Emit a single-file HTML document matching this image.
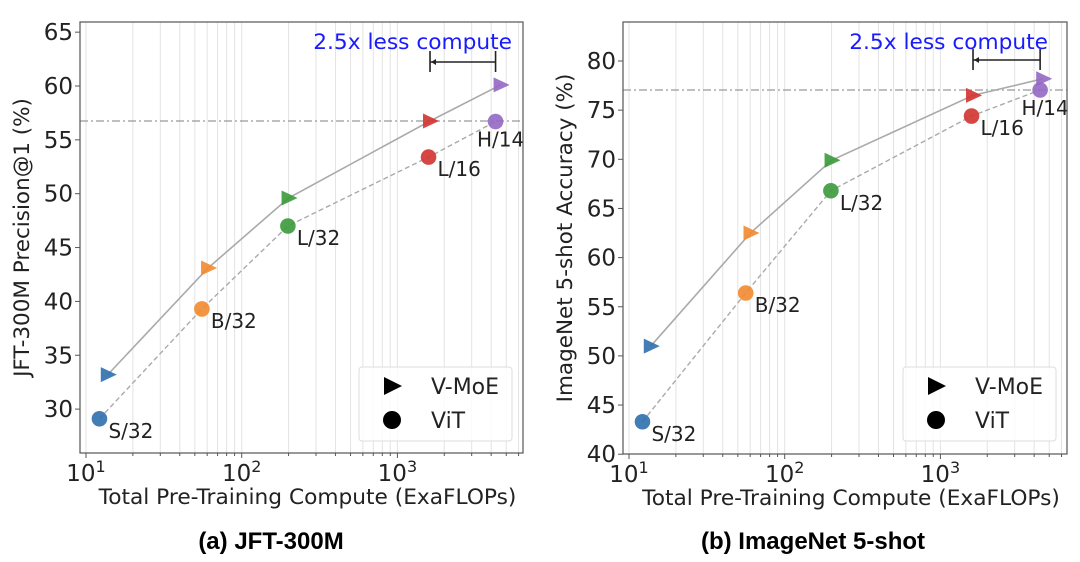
<!DOCTYPE html>
<html><head><meta charset="utf-8">
<style>
html,body{margin:0;padding:0;background:#fff;}
svg{display:block;font-family:"DejaVu Sans","Liberation Sans",sans-serif;}
</style></head>
<body>
<svg id="fig" width="1080" height="562" viewBox="0 0 1080 562" xmlns="http://www.w3.org/2000/svg"></svg>
<script>
// ---- data ----
const models = ["S/32","B/32","L/32","L/16","H/14"];
const colors = ["#2f6fad","#f28a2e","#3b9a3b","#d23330","#9467c4"];
// JFT-300M panel
const jftVitCompute = [12.2, 55.5, 198, 1585, 4270];
const jftVitValue   = [29.1, 39.3, 47.0, 53.4, 56.7];
const jftMoeCompute = [13.8, 60.8, 200, 1620, 4600];
const jftMoeValue   = [33.2, 43.1, 49.6, 56.75, 60.1];
const jftYTicks = [30,35,40,45,50,55,60,65];
const jftRef = 56.75;
const jftBracket = [1620, 4270];
// ImageNet panel
const inVitCompute = [12.2, 56.2, 198, 1585, 4370];
const inVitValue   = [43.3, 56.4, 66.8, 74.4, 77.05];
const inMoeCompute = [13.8, 60.3, 200, 1620, 4570];
const inMoeValue   = [51.0, 62.5, 69.9, 76.5, 78.2];
const inYTicks = [40,45,50,55,60,65,70,75,80];
const inRef = 77.05;
const inBracket = [1620, 4370];
const xTickExps = [1,2,3];

const NS="http://www.w3.org/2000/svg";
const svg=document.getElementById('fig');
function mk(tag,attrs,parent){const e=document.createElementNS(NS,tag);for(const k in attrs)e.setAttribute(k,attrs[k]);(parent||svg).appendChild(e);return e;}

function panel(cfg){
  const g=mk('g',{});
  
  
  const L=cfg.left,R=cfg.right,T=22,B=cfg.bottom;
  const xs=v=>cfg.x10+(Math.log10(v)-1)*155.7;
  const ys=v=>cfg.yAt0+(v-cfg.y0)*(-cfg.ppu);
  for(let e=1;e<=3;e++){for(let m=1;m<=9;m++){const v=m*Math.pow(10,e);const x=xs(v);if(x<=L||x>=R)continue;
    const l=mk('line',{x1:x,x2:x,y1:T,y2:B,stroke:'#e3e3e3','stroke-width':1},g);
    }}
  const rl=mk('line',{x1:L,x2:R,y1:ys(cfg.ref),y2:ys(cfg.ref),stroke:'#999','stroke-width':1.3,'stroke-dasharray':'8 3 2 3'},g);
  
  const moeL=mk('polyline',{points:cfg.moeX.map((c,i)=>xs(c)+','+ys(cfg.moeY[i])).join(' '),fill:'none',stroke:'#aaa','stroke-width':1.6},g);
  
  const vitL=mk('polyline',{points:cfg.vitX.map((c,i)=>xs(c)+','+ys(cfg.vitY[i])).join(' '),fill:'none',stroke:'#aaa','stroke-width':1.4,'stroke-dasharray':'5 3'},g);
  
  cfg.moeX.forEach((c,i)=>{const x=xs(c),y=ys(cfg.moeY[i]);
    const p=mk('polygon',{points:`${x-7},${y-7.5} ${x+9},${y} ${x-7},${y+7.5}`,fill:colors[i],'fill-opacity':0.9},g);
    });
  cfg.vitX.forEach((c,i)=>{const x=xs(c),y=ys(cfg.vitY[i]);
    const p=mk('circle',{cx:x,cy:y,r:7.8,fill:colors[i],'fill-opacity':0.9},g);
    
    const t=mk('text',{x:x+(i==4?5:9),y:y+(i==4?25:19),'font-size':20,fill:'#222','text-anchor':(i==4?'middle':'start')},g);t.textContent=models[i];
    });
  const f=mk('rect',{x:L,y:T,width:R-L,height:B-T,fill:'none',stroke:'#555','stroke-width':1.2},g);
  
  cfg.yTicks.forEach(v=>{const y=ys(v);mk('line',{x1:L-5,x2:L,y1:y,y2:y,stroke:'#555'},g);
    const t=mk('text',{x:L-7,y:y+8,'font-size':23,'text-anchor':'end',fill:'#222'},g);t.textContent=v;
    });
  xTickExps.forEach(e=>{const x=xs(Math.pow(10,e));mk('line',{x1:x,x2:x,y1:B,y2:B+5,stroke:'#555'},g);
    const t=mk('text',{x:x,y:B+28,'font-size':23,'text-anchor':'middle',fill:'#222'},g);
    
    const a=mk('tspan',{},t);a.textContent='10';const s=mk('tspan',{dy:-9,'font-size':16},t);s.textContent=e;});
  for(let e=1;e<=3;e++)for(let m=2;m<=9;m++){const x=xs(m*Math.pow(10,e));if(x<R)mk('line',{x1:x,x2:x,y1:B,y2:B+3,stroke:'#555'},g);}
  const xt=mk('text',{x:(L+R)/2+6,y:B+51,'font-size':21.7,'text-anchor':'middle',fill:'#222'},g);xt.textContent='Total Pre-Training Compute (ExaFLOPs)';
  
  const yt=mk('text',{x:0,y:0,'font-size':21.5,'text-anchor':'middle',fill:'#222',transform:`translate(${cfg.ytx},${(T+B)/2}) rotate(-90)`},g);yt.textContent=cfg.ylabel;
  
  const an=mk('text',{x:cfg.annX,y:49,'font-size':21.7,'text-anchor':'end',fill:'#1a1aff'},g);an.textContent='2.5x less compute';
  
  const bx1=xs(cfg.bracket[0]),bx2=xs(cfg.bracket[1]),by=cfg.by;
  const br=mk('g',{},g);
  mk('line',{x1:bx1,x2:bx2,y1:by,y2:by,stroke:'#222','stroke-width':1.6},br);
  mk('line',{x1:bx1,x2:bx1,y1:by-11,y2:by+10,stroke:'#222','stroke-width':1.6},br);
  mk('line',{x1:bx2,x2:bx2,y1:by-11,y2:by+10,stroke:'#222','stroke-width':1.6},br);
  mk('polygon',{points:`${bx1+1},${by} ${bx1+6},${by-3} ${bx1+6},${by+3}`,fill:'#222'},br);
  const lg=mk('g',{},g);
  const lx=cfg.legX;
  mk('rect',{x:lx,y:367,width:153,height:74,rx:3,fill:'#fff','fill-opacity':0.8,stroke:'#ddd'},lg);
  mk('polygon',{points:`${lx+25},${377} ${lx+43},${386} ${lx+25},${395}`,fill:'#000'},lg);
  mk('circle',{cx:lx+33,cy:420,r:9,fill:'#000'},lg);
  const l1=mk('text',{x:lx+72,y:394,'font-size':22,fill:'#222'},lg);l1.textContent='V-MoE';
  
  const l2=mk('text',{x:lx+72,y:428,'font-size':22,fill:'#222'},lg);l2.textContent='ViT';
  
  const cp=mk('text',{x:cfg.capX,y:549,'font-size':24,'font-weight':'bold','text-anchor':'middle',fill:'#000','font-family':'Liberation Sans, sans-serif'},g);cp.textContent=cfg.caption;
  
}

panel({name:'jft-panel',left:80,right:523,bottom:453,x10:86,y0:60,yAt0:86,ppu:10.77,
  vitX:jftVitCompute,vitY:jftVitValue,moeX:jftMoeCompute,moeY:jftMoeValue,yTicks:jftYTicks,ref:jftRef,
  bracket:jftBracket,by:62,annX:512,legX:359,ytx:29,ylabel:'JFT-300M Precision@1 (%)',capX:271,caption:'(a) JFT-300M'});
panel({name:'imagenet-panel',left:623,right:1067,bottom:454,x10:629,y0:80,yAt0:61,ppu:9.83,
  vitX:inVitCompute,vitY:inVitValue,moeX:inMoeCompute,moeY:inMoeValue,yTicks:inYTicks,ref:inRef,
  bracket:inBracket,by:60,annX:1048,legX:903,ytx:572,ylabel:'ImageNet 5-shot Accuracy (%)',capX:813,caption:'(b) ImageNet 5-shot'});
</script>
</body></html>
